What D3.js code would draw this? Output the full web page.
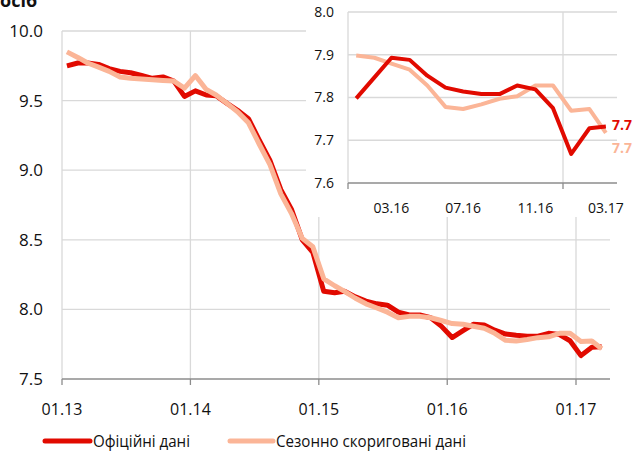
<!DOCTYPE html>
<html><head><meta charset="utf-8">
<script src="https://cdn.jsdelivr.net/npm/d3@7"></script>
<style>
body{margin:0;background:#fff;}
svg{display:block;font-family:"Open Sans",sans-serif;}
</style></head>
<body><svg id="c" width="644" height="457"></svg>
<script>
// months 01.13 .. 03.17
const months = d3.range(51).map(i => new Date(2013, i, 15));
const official = [
 9.75,9.77,9.77,9.76,9.73,9.71,9.70,9.68,9.66,9.67,9.64,9.53,
 9.57,9.54,9.535,9.48,9.43,9.37,9.22,9.07,8.86,8.72,8.50,8.41,
 8.13,8.12,8.13,8.09,8.06,8.04,8.03,7.98,7.96,7.96,7.94,7.88,
 7.798,7.847,7.893,7.888,7.851,7.823,7.814,7.808,7.808,7.828,7.819,7.775,
 7.668,7.728,7.732];
const adjusted = [
 9.85,9.81,9.77,9.74,9.71,9.67,9.66,9.655,9.65,9.645,9.64,9.59,
 9.68,9.58,9.54,9.48,9.42,9.34,9.19,9.04,8.83,8.69,8.51,8.45,
 8.22,8.17,8.13,8.08,8.04,8.01,7.98,7.94,7.95,7.95,7.94,7.92,
 7.898,7.893,7.879,7.865,7.828,7.778,7.773,7.784,7.797,7.803,7.828,7.828,
 7.769,7.773,7.717];
const mainYTicks = [7.5,8.0,8.5,9.0,9.5,10.0];
const mainXTicks = [new Date(2013,0,1),new Date(2014,0,1),new Date(2015,0,1),new Date(2016,0,1),new Date(2017,0,1)];
const insetYTicks = [7.6,7.7,7.8,7.9,8.0];
const insetLabelMonths = [new Date(2016,2,15),new Date(2016,6,15),new Date(2016,10,15),new Date(2017,2,15)];
const insetGridDates = [new Date(2016,0,1),new Date(2017,0,1)];
const seriesNames = ["Офіційні дані","Сезонно скориговані дані"];
const colors = ["#e10a00","#fbb597"];
const lastLabels = ["7.7","7.7"];

const svg = d3.select("#c");
const grid = "#d9d9d9", axisC = "#8c8c8c";

// ---- main chart
const x = d3.scaleTime().domain([new Date(2013,0,1), new Date(2017,0,1)]).range([62,576]);
const y = d3.scaleLinear().domain([7.5,10]).range([379,31]);
const xRight = 610;
const g = svg.append("g");
g.selectAll(".hg").data(mainYTicks.slice(1)).join("line")
  .attr("x1",62).attr("x2",xRight).attr("y1",d=>y(d)).attr("y2",d=>y(d))
  .attr("stroke",grid).attr("stroke-width",1.3);
g.selectAll(".vg").data(mainXTicks).join("line")
  .attr("x1",d=>x(d)).attr("x2",d=>x(d)).attr("y1",y(10)).attr("y2",y(7.5))
  .attr("stroke",grid).attr("stroke-width",1.3);
g.append("line").attr("x1",62).attr("x2",xRight).attr("y1",y(7.5)).attr("y2",y(7.5))
  .attr("stroke",axisC).attr("stroke-width",1.3);
g.selectAll(".tk").data(mainXTicks).join("line")
  .attr("x1",d=>x(d)).attr("x2",d=>x(d)).attr("y1",y(7.5)).attr("y2",y(7.5)+6)
  .attr("stroke",axisC).attr("stroke-width",1.3);
g.selectAll(".yl").data(mainYTicks).join("text")
  .attr("x",43).attr("y",d=>y(d)).attr("dy","0.35em").attr("text-anchor","end")
  .attr("font-size",17).attr("fill","#111").text(d=>d.toFixed(1));
g.selectAll(".xl").data(mainXTicks).join("text")
  .attr("x",d=>x(d)).attr("y",415).attr("text-anchor","middle")
  .attr("font-size",16).attr("fill","#111").text(d3.timeFormat("%m.%y"));

const line = d3.line().x((d,i)=>x(months[i])).y(d=>y(d)).curve(d3.curveLinear);
g.append("path").datum(official).attr("d",line).attr("fill","none")
  .attr("stroke",colors[0]).attr("stroke-width",5).attr("stroke-linejoin","round");
g.append("path").datum(adjusted).attr("d",line).attr("fill","none")
  .attr("stroke",colors[1]).attr("stroke-width",5).attr("stroke-linejoin","round");

// title (cut at top, as in the reference)
svg.append("text").attr("x",0).attr("y",7).attr("font-size",18).attr("font-weight","bold")
  .attr("fill","#111").text("осіб");

// ---- inset
svg.append("rect").attr("x",306).attr("y",0).attr("width",338).attr("height",217).attr("fill","#fff");
const ix = d3.scaleTime().domain(insetGridDates).range([348,563]);
const iy = d3.scaleLinear().domain([7.6,8.0]).range([183,12]);
const iRight = 617;
const ig = svg.append("g");
ig.selectAll(".hg").data(insetYTicks.slice(1)).join("line")
  .attr("x1",348).attr("x2",iRight).attr("y1",d=>iy(d)).attr("y2",d=>iy(d))
  .attr("stroke",grid).attr("stroke-width",1.3);
ig.selectAll(".vg").data(insetGridDates).join("line")
  .attr("x1",d=>ix(d)).attr("x2",d=>ix(d)).attr("y1",iy(8.0)).attr("y2",iy(7.6))
  .attr("stroke",grid).attr("stroke-width",1.3);
ig.append("line").attr("x1",348).attr("x2",iRight).attr("y1",iy(7.6)).attr("y2",iy(7.6))
  .attr("stroke",axisC).attr("stroke-width",1.3);
ig.selectAll(".tk").data(insetGridDates).join("line")
  .attr("x1",d=>ix(d)).attr("x2",d=>ix(d)).attr("y1",iy(7.6)).attr("y2",iy(7.6)+6)
  .attr("stroke",axisC).attr("stroke-width",1.3);
ig.selectAll(".yl").data(insetYTicks).join("text")
  .attr("x",334).attr("y",d=>iy(d)).attr("dy","0.35em").attr("text-anchor","end")
  .attr("font-size",14).attr("fill","#111").text(d=>d.toFixed(1));
ig.selectAll(".xl").data(insetLabelMonths).join("text")
  .attr("x",d=>ix(d)).attr("y",213).attr("text-anchor","middle")
  .attr("font-size",14).attr("fill","#111").text(d3.timeFormat("%m.%y"));

const startIdx = 36;
const iline = d3.line().x((d,i)=>ix(months[startIdx+i])).y(d=>iy(d));
ig.append("path").datum(adjusted.slice(startIdx)).attr("d",iline).attr("fill","none")
  .attr("stroke",colors[1]).attr("stroke-width",4).attr("stroke-linejoin","round");
ig.append("path").datum(official.slice(startIdx)).attr("d",iline).attr("fill","none")
  .attr("stroke",colors[0]).attr("stroke-width",4).attr("stroke-linejoin","round");
ig.append("text").attr("x",612).attr("y",130).attr("font-size",14).attr("font-weight","bold")
  .attr("fill",colors[0]).text(lastLabels[0]);
ig.append("text").attr("x",612).attr("y",153).attr("font-size",14).attr("font-weight","bold")
  .attr("fill",colors[1]).text(lastLabels[1]);

// ---- legend
const leg = svg.append("g");
const legItems = [{x:45, w:45, tx:93},{x:230, w:43, tx:276}];
legItems.forEach((it,i)=>{
  leg.append("line").attr("x1",it.x).attr("x2",it.x+it.w).attr("y1",441).attr("y2",441)
    .attr("stroke",colors[i]).attr("stroke-width",5).attr("stroke-linecap","round");
  leg.append("text").attr("x",it.tx).attr("y",441).attr("dy","0.35em")
    .attr("font-size",16).attr("fill","#111").attr("textLength", i===0 ? 97 : 190)
    .attr("lengthAdjust","spacingAndGlyphs").text(seriesNames[i]);
});
</script></body></html>
